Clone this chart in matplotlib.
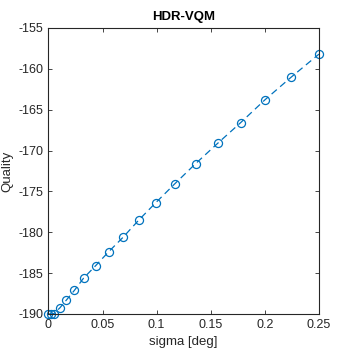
import numpy as np
import matplotlib
matplotlib.use('Agg')
import matplotlib.pyplot as plt

plt.rcParams['font.family'] = ['Liberation Sans', 'DejaVu Sans']
plt.rcParams['axes.unicode_minus'] = False

# sigma values and HDR-VQM quality
sigma = [0, 0.002, 0.005, 0.0105, 0.0165, 0.024, 0.0325, 0.0435, 0.0555, 0.069,
         0.0835, 0.099, 0.1165, 0.136, 0.1565, 0.1775, 0.2, 0.2245, 0.25]
quality = [-190, -190, -189.95, -189.25, -188.3, -187.1, -185.6, -184.1, -182.4, -180.6,
           -178.5, -176.4, -174.1, -171.6, -169.1, -166.6, -163.8, -161.0, -158.2]

xticks = [0, 0.05, 0.1, 0.15, 0.2, 0.25]
xticklabels = ['0', '0.05', '0.1', '0.15', '0.2', '0.25']
yticks = [-190, -185, -180, -175, -170, -165, -160, -155]

fig = plt.figure(figsize=(3.54, 3.54), dpi=100)
ax = fig.add_axes([0.137, 0.113, 0.764, 0.808])

line, = ax.plot(sigma, quality, '--o', color=(0, 0.447, 0.741), linewidth=0.9,
                markersize=5.8, markerfacecolor='none', markeredgewidth=0.9, clip_on=False)
line.set_dashes([5.5, 3.5])

ax.set_xlim(0, 0.25)
ax.set_ylim(-190, -155)
ax.set_xticks(xticks)
ax.set_xticklabels(xticklabels)
ax.set_yticks(yticks)
ax.tick_params(direction='in', length=3, width=0.6, labelsize=9, colors='#262626',
               top=True, right=True)
for s in ax.spines.values():
    s.set_linewidth(0.8)
    s.set_color('#262626')

ax.set_title('HDR-VQM', fontsize=9.5, fontweight='bold', pad=6)
ax.set_xlabel('sigma [deg]', fontsize=9.5, color='#262626')
ax.set_ylabel('Quality', fontsize=9.5, color='#262626')

fig.savefig('out.png', dpi=100)
